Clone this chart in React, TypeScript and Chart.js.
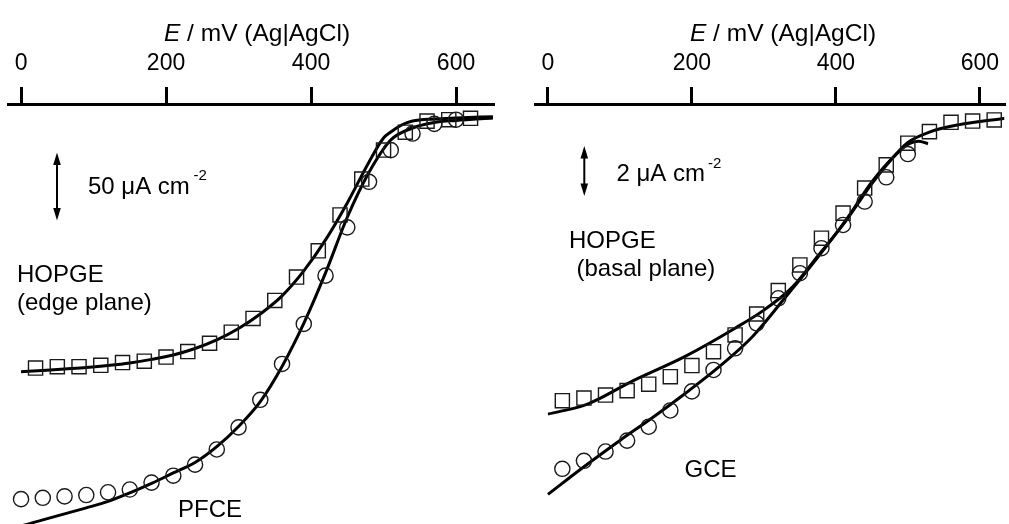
import React, { useEffect, useRef } from "react";
import { Chart, registerables } from "chart.js";

Chart.register(...registerables);

const FONT = '"Liberation Sans", Arial, Helvetica, sans-serif';

// ---- shared axis ----
const xTicks = [0, 200, 400, 600];

// ---- left panel: HOPGE (edge plane) & PFCE, current density / μA cm^-2 ----
const edgePotentials = [20, 50, 80, 110, 140, 170, 200, 230, 260, 290, 320, 350, 380, 410, 440, 470, 500, 530, 560, 590, 620];
const edgeCurrents = [-182, -181, -181, -180, -178, -177, -174, -170, -164, -156, -146, -133, -116, -97, -71, -45, -24, -11, -3, -2, -1];

const pfcePotentials = [0, 30, 60, 90, 120, 150, 180, 210, 240, 270, 300, 330, 360, 390, 420, 450, 480, 510, 540, 570, 600];
const pfceCurrents = [-277, -276, -275, -274, -272, -270, -265, -260, -252, -241, -225, -205, -179, -150, -115, -80, -47, -24, -12, -5, -2];

const edgeFitPotentials = [0, 30, 60, 90, 120, 150, 180, 210, 240, 270, 300, 330, 360, 390, 420, 450, 480, 500, 510, 525, 540, 570, 600, 651];
const edgeFitCurrents = [-184.6, -183.7, -182.6, -181.5, -180.1, -178.3, -175.7, -172.5, -167.8, -161.6, -153.3, -142.8, -129.7, -111.6, -89.1, -62.3, -32.6, -15.2, -10.9, -5.8, -2.9, -1.4, -0.7, 0.2];

const pfceFitPotentials = [-18, 0, 30, 60, 90, 120, 150, 180, 210, 240, 270, 300, 330, 360, 390, 420, 450, 480, 510, 540, 570, 600, 651];
const pfceFitCurrents = [-298.6, -296.4, -292.0, -287.7, -283.3, -278.6, -272.5, -265.6, -258.0, -250.4, -238.9, -224.3, -206.3, -180.8, -149.6, -113.0, -72.7, -40.1, -16.7, -8.0, -4.0, -2.5, -0.7];

// ---- right panel: HOPGE (basal plane) & GCE, current density / μA cm^-2 ----
const basalPotentials = [20, 50, 80, 110, 140, 170, 200, 230, 260, 290, 320, 350, 380, 410, 440, 470, 500, 530, 560, 590, 620];
const basalCurrents = [-10.96, -10.86, -10.74, -10.57, -10.32, -10.03, -9.6, -9.06, -8.41, -7.6, -6.69, -5.7, -4.66, -3.69, -2.72, -1.82, -0.98, -0.53, -0.17, -0.12, -0.08];

const gcePotentials = [20, 50, 80, 110, 140, 170, 200, 230, 260, 290, 320, 350, 380, 410, 440, 470, 500];
const gceCurrents = [-13.6, -13.29, -12.93, -12.51, -11.97, -11.34, -10.6, -9.77, -8.93, -7.96, -6.99, -6.02, -5.05, -4.15, -3.24, -2.3, -1.4];

const basalFitPotentials = [0, 55, 120, 190, 260, 300, 340, 375, 415, 450, 485, 500, 530, 570, 635];
const basalFitCurrents = [-11.48, -11.09, -10.16, -9.25, -8.15, -7.45, -6.55, -5.35, -3.95, -2.55, -1.36, -0.95, -0.55, -0.27, -0.01];

const gceFitPotentials = [0, 50, 100, 146, 192, 238, 284, 329, 374, 416, 450, 484, 502, 515, 528];
const gceFitCurrents = [-14.59, -13.52, -12.5, -11.6, -10.65, -9.64, -8.48, -6.98, -5.43, -3.88, -2.48, -1.4, -1.0, -0.9, -1.0];

const pts = (xs: number[], ys: number[]) => xs.map((x, i) => ({ x, y: ys[i] }));

type Item =
  | { kind: "text"; text: string; x: number; y: number; size: number }
  | { kind: "arrow"; x: number; y1: number; y2: number }
  | { kind: "title"; x: number; y: number };

function annotations(items: Item[]) {
  return {
    id: "annotations",
    afterDraw(chart: any) {
      const ctx: CanvasRenderingContext2D = chart.ctx;
      ctx.save();
      ctx.fillStyle = "#000";
      ctx.strokeStyle = "#000";
      ctx.textBaseline = "alphabetic";
      ctx.textAlign = "left";
      for (const it of items) {
        if (it.kind === "text") {
          ctx.font = `${it.size}px ${FONT}`;
          ctx.fillText(it.text, it.x, it.y);
        } else if (it.kind === "title") {
          const italic = `italic 24.5px ${FONT}`;
          const normal = `24.5px ${FONT}`;
          ctx.font = italic;
          const w1 = ctx.measureText("E").width;
          ctx.font = normal;
          const rest = " / mV (Ag|AgCl)";
          const w2 = ctx.measureText(rest).width;
          const x0 = it.x - (w1 + w2) / 2;
          ctx.font = italic;
          ctx.fillText("E", x0, it.y);
          ctx.font = normal;
          ctx.fillText(rest, x0 + w1, it.y);
        } else {
          const head = 12.5;
          const hw = 3.8;
          ctx.lineWidth = 2;
          ctx.beginPath();
          ctx.moveTo(it.x, it.y1 + head - 1);
          ctx.lineTo(it.x, it.y2 - head + 1);
          ctx.stroke();
          ctx.beginPath();
          ctx.moveTo(it.x, it.y1);
          ctx.lineTo(it.x - hw, it.y1 + head);
          ctx.lineTo(it.x + hw, it.y1 + head);
          ctx.closePath();
          ctx.fill();
          ctx.beginPath();
          ctx.moveTo(it.x, it.y2);
          ctx.lineTo(it.x - hw, it.y2 - head);
          ctx.lineTo(it.x + hw, it.y2 - head);
          ctx.closePath();
          ctx.fill();
        }
      }
      ctx.restore();
    },
  };
}

function fitLine(data: { x: number; y: number }[], order: number) {
  return {
    data,
    showLine: true,
    borderColor: "#000",
    borderWidth: 3,
    pointRadius: 0,
    fill: false,
    cubicInterpolationMode: "monotone" as const,
    order,
  };
}

function markers(data: { x: number; y: number }[], style: "rect" | "circle", order: number) {
  return {
    data,
    showLine: false,
    pointStyle: style,
    pointRadius: style === "rect" ? 10 : 7.6,
    pointBorderWidth: 1.4,
    pointBorderColor: "#1a1a1a",
    pointBackgroundColor: "rgba(0,0,0,0)",
    order,
  };
}

function makeConfig(p: {
  xMin: number;
  xMax: number;
  yMin: number;
  yMax: number;
  padLeft: number;
  padRight: number;
  datasets: any[];
  items: Item[];
}): any {
  return {
    type: "scatter",
    data: { datasets: p.datasets },
    plugins: [annotations(p.items)],
    options: {
      responsive: false,
      animation: false,
      events: [],
      layout: { autoPadding: false, padding: { left: p.padLeft, right: p.padRight, top: 0, bottom: 0 } },
      plugins: { legend: { display: false }, tooltip: { enabled: false } },
      scales: {
        x: {
          type: "linear",
          position: "top",
          min: p.xMin,
          max: p.xMax,
          afterBuildTicks: (s: any) => {
            s.ticks = xTicks.map((v) => ({ value: v }));
          },
          afterFit: (s: any) => {
            s.height = 104;
          },
          border: { display: true, color: "#000", width: 3 },
          grid: { drawOnChartArea: false, drawTicks: true, tickLength: 17, color: "#000", lineWidth: 3 },
          ticks: {
            color: "#000",
            font: { family: FONT, size: 23 },
            padding: 10,
            maxRotation: 0,
            autoSkip: false,
            callback: (v: any) => String(v),
          },
        },
        y: { type: "linear", display: false, min: p.yMin, max: p.yMax },
      },
    },
  };
}

const leftConfig = () =>
  makeConfig({
    xMin: -18,
    xMax: 651,
    yMin: -295,
    yMax: 9.4,
    padLeft: 8,
    padRight: 11,
    datasets: [
      fitLine(pts(edgeFitPotentials, edgeFitCurrents), 2),
      fitLine(pts(pfceFitPotentials, pfceFitCurrents), 2),
      markers(pts(edgePotentials, edgeCurrents), "rect", 1),
      markers(pts(pfcePotentials, pfceCurrents), "circle", 1),
    ],
    items: [
      { kind: "title", x: 257, y: 41 },
      { kind: "arrow", x: 57, y1: 152.5, y2: 220.5 },
      { kind: "text", text: "50 μA cm", x: 88, y: 194, size: 24 },
      { kind: "text", text: "-2", x: 193.5, y: 179.5, size: 15 },
      { kind: "text", text: "HOPGE", x: 17, y: 282, size: 24 },
      { kind: "text", text: "(edge plane)", x: 17, y: 310, size: 24 },
      { kind: "text", text: "PFCE", x: 178, y: 517, size: 24 },
    ],
  });

const rightConfig = () =>
  makeConfig({
    xMin: -18,
    xMax: 634,
    yMin: -15.74,
    yMax: 0.54,
    padLeft: 31,
    padRight: 0,
    datasets: [
      fitLine(pts(basalFitPotentials, basalFitCurrents), 2),
      fitLine(pts(gceFitPotentials, gceFitCurrents), 2),
      markers(pts(basalPotentials, basalCurrents), "rect", 1),
      markers(pts(gcePotentials, gceCurrents), "circle", 1),
    ],
    items: [
      { kind: "title", x: 279, y: 41 },
      { kind: "arrow", x: 80.3, y1: 146, y2: 196 },
      { kind: "text", text: "2 μA cm", x: 112.5, y: 180.7, size: 24 },
      { kind: "text", text: "-2", x: 204, y: 168.3, size: 15 },
      { kind: "text", text: "HOPGE", x: 65, y: 248.3, size: 24 },
      { kind: "text", text: "(basal plane)", x: 72.5, y: 276, size: 24 },
      { kind: "text", text: "GCE", x: 180.5, y: 477.3, size: 24 },
    ],
  });

function Panel({ width, config }: { width: number; config: () => any }) {
  const ref = useRef<HTMLCanvasElement | null>(null);
  useEffect(() => {
    if (!ref.current) return;
    const chart = new Chart(ref.current, config());
    return () => chart.destroy();
  }, [config]);
  return <canvas ref={ref} width={width} height={524} style={{ display: "block", width, height: 524 }} />;
}

export default function App() {
  return (
    <div
      style={{
        position: "fixed",
        left: 0,
        top: 0,
        width: 1009,
        height: 524,
        display: "flex",
        background: "#fff",
        overflow: "hidden",
      }}
    >
      <Panel width={504} config={leftConfig} />
      <Panel width={505} config={rightConfig} />
    </div>
  );
}
